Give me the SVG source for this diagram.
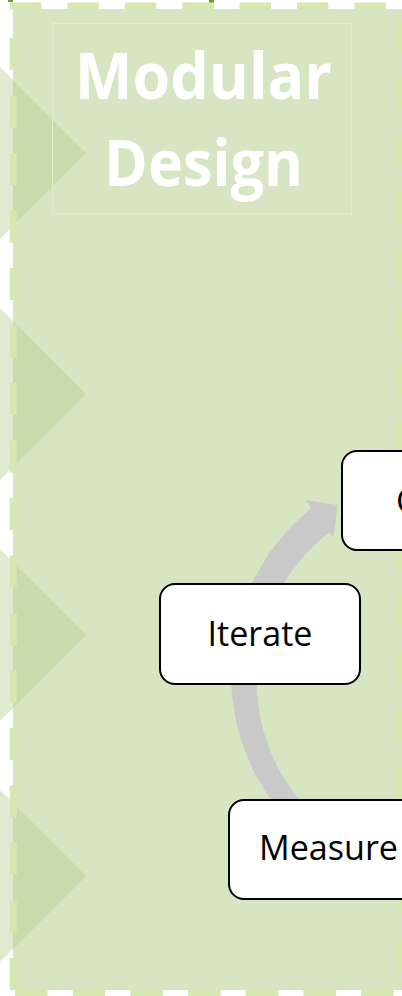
<svg xmlns="http://www.w3.org/2000/svg" width="402" height="996" viewBox="0 0 402 996">
  <style>
    .tri { fill: rgb(174,204,140); fill-opacity: 0.4; }
    .border { stroke: #d6e7b1; stroke-width: 7; fill: none; }
    .node rect { fill: #ffffff; stroke: #000000; stroke-width: 2; }
    .node text { font-family: "Open Sans", "Liberation Sans", sans-serif; font-size: 34px; fill: #000000; }
    .title { font-family: "Open Sans", "Liberation Sans", sans-serif; font-weight: bold; font-size: 64px; fill: #ffffff; }
  </style>
  <rect x="0" y="0" width="402" height="996" fill="#ffffff"/>
  <!-- small dark green marks at top edge -->
  <rect x="8" y="0" width="5" height="2" fill="#6b9e2a"/>
  <rect x="209" y="0" width="5" height="3" fill="#6b9e2a"/>
  <!-- container fill -->
  <rect id="container" x="13" y="9" width="389" height="981" fill="#d8e5c3"/>
  <!-- left chevrons -->
  <g id="chevrons">
    <polygon class="tri" points="0,67 86,153 0,239"/>
    <polygon class="tri" points="0,308 86,394 0,480"/>
    <polygon class="tri" points="0,549 86,635 0,721"/>
    <polygon class="tri" points="0,790 86,876 0,962"/>
  </g>
  <!-- dashed border -->
  <g id="border">
    <line class="border" x1="10" y1="6" x2="402" y2="6" stroke-dasharray="31.5 25.9"/>
    <line class="border" x1="13.3" y1="38" x2="13.3" y2="996" stroke-dasharray="32 25.5"/>
    <line class="border" x1="399.5" y1="19.5" x2="399.5" y2="996" stroke-dasharray="32 25.5"/>
    <line class="border" x1="15" y1="993" x2="402" y2="993" stroke-dasharray="32.5 25.2"/>
  </g>
  <!-- title -->
  <g id="title">
    <rect x="52.5" y="23.5" width="299" height="190.5" fill="none" stroke="#e2edcf" stroke-width="1"/>
    <text class="title" x="203.5" y="99" text-anchor="middle" textLength="257" lengthAdjust="spacingAndGlyphs">Modular</text>
    <text class="title" x="203.5" y="186" text-anchor="middle" textLength="199" lengthAdjust="spacingAndGlyphs">Design</text>
  </g>
  <!-- connectors -->
  <g id="connectors">
    <path d="M 289.9 822.6 A 214 214 0 0 1 311.4 508.2 L 306 500 L 337.5 505 L 333.5 538 L 330 531.8 A 188 188 0 0 0 306 807.6 Z" fill="#c9c9c9"/>
  </g>
  <!-- nodes -->
  <g id="node-create" class="node">
    <rect x="342" y="451" width="200" height="99" rx="15"/>
    <text x="396" y="512.5">Create</text>
  </g>
  <g id="node-iterate" class="node">
    <rect x="160" y="584" width="200" height="100" rx="15"/>
    <text x="260" y="646" text-anchor="middle" textLength="105" lengthAdjust="spacingAndGlyphs">Iterate</text>
  </g>
  <g id="node-measure" class="node">
    <rect x="229" y="800" width="200" height="99" rx="15"/>
    <text x="259" y="860" textLength="139" lengthAdjust="spacingAndGlyphs">Measure</text>
  </g>
</svg>
